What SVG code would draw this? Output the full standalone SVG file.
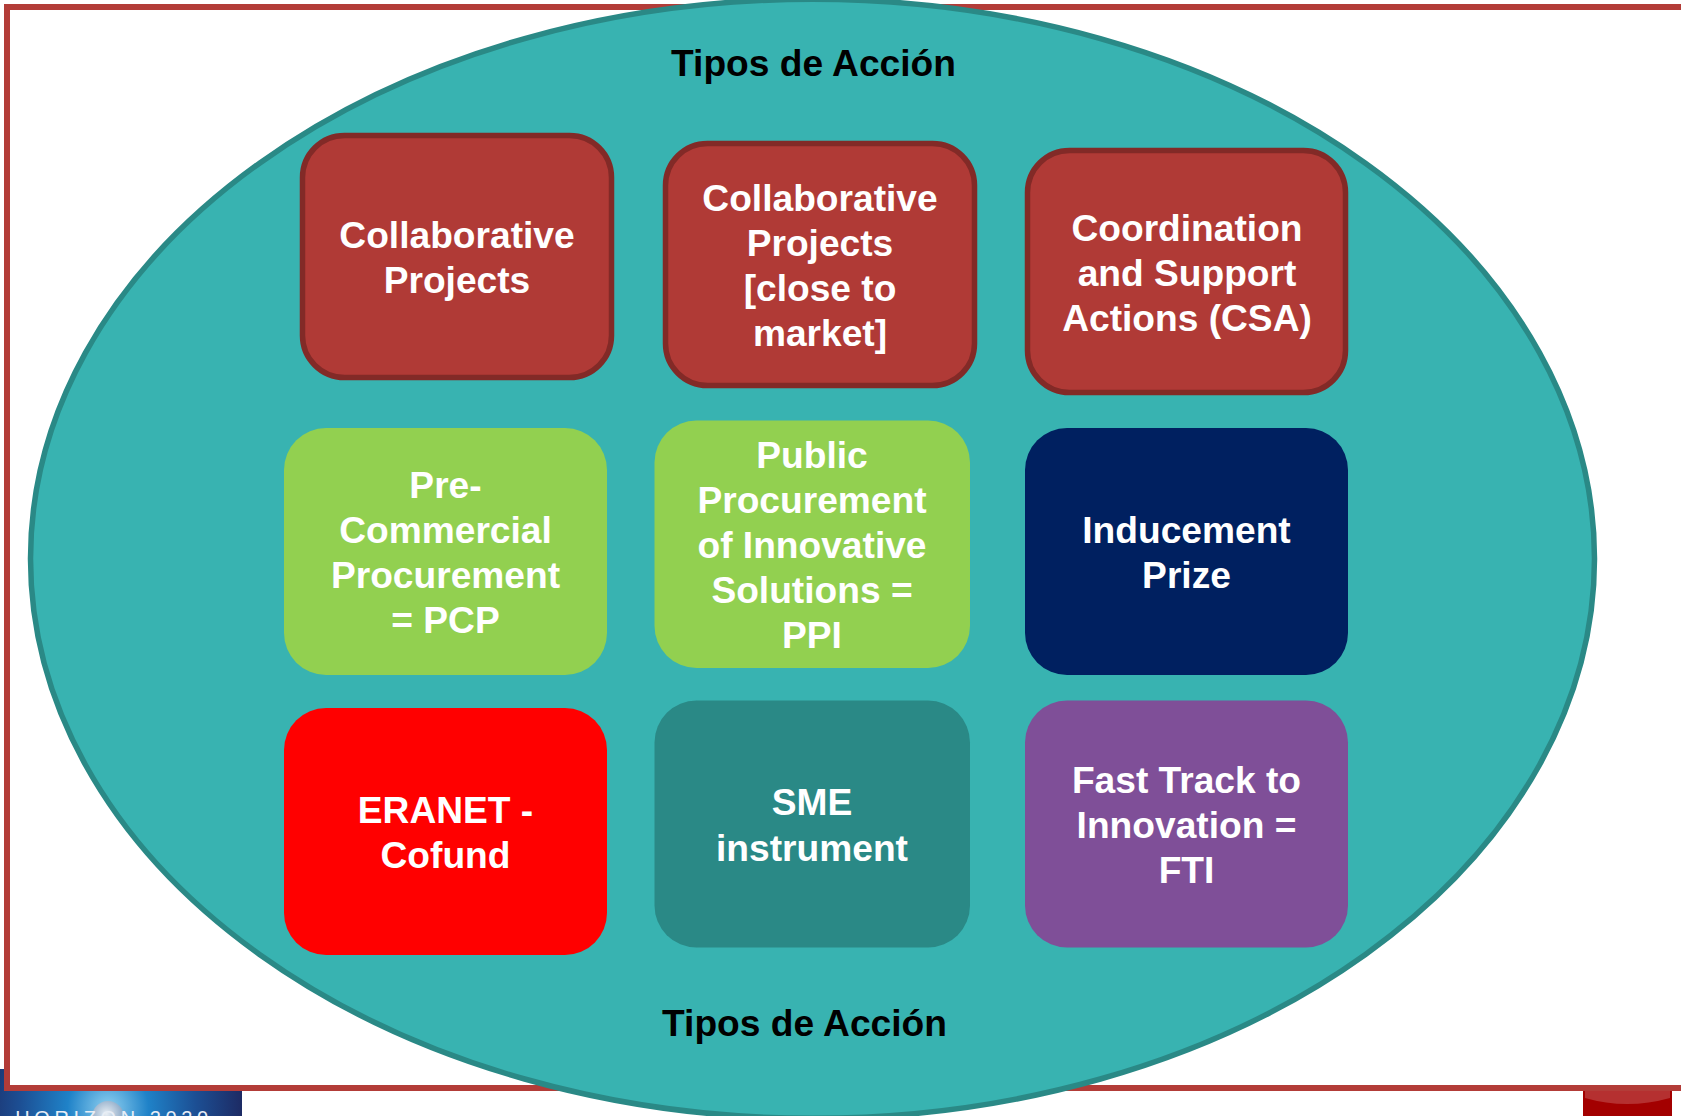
<svg xmlns="http://www.w3.org/2000/svg" width="1681" height="1116" viewBox="0 0 1681 1116">
<style>
text{font-family:"Liberation Sans",Arial,sans-serif;font-weight:bold;text-anchor:middle}
.w{fill:#fff;font-size:37.15px}
.k{fill:#000;font-size:37.15px}
.r{fill:#b03a36;stroke:#822a27;stroke-width:5.5}
</style>
<defs>
<radialGradient id="lg" gradientUnits="userSpaceOnUse" cx="108" cy="1108" r="135"><stop offset="0" stop-color="#8fd0f0"/><stop offset=".3" stop-color="#1f82c8"/><stop offset=".65" stop-color="#1c4f94"/><stop offset="1" stop-color="#1d2a63"/></radialGradient>
<radialGradient id="gl" cx=".45" cy=".4" r=".6"><stop offset="0" stop-color="#e8eef4"/><stop offset="1" stop-color="#7f9fc0"/></radialGradient>
<clipPath id="bot"><rect x="0" y="1060" width="1681" height="56"/></clipPath>
</defs>
<rect width="1681" height="1116" fill="#fff"/>
<g id="logo"><rect x="0" y="1069" width="242" height="47" fill="url(#lg)"/><circle cx="108" cy="1117" r="16" fill="url(#gl)"/><text x="114" y="1125" clip-path="url(#bot)" style="font-weight:normal;font-size:20px;letter-spacing:4.6px" fill="#e8eef6">HORIZON 2020</text></g>
<g id="icon"><rect x="1583" y="1090" width="89" height="26" fill="#a30000"/><path d="M1585 1091H1670V1098Q1627 1110 1585 1098Z" fill="#b53030"/></g>
<g id="frame"><path d="M1690 7H7V1088H1690Z" fill="#fff" stroke="#b33c38" stroke-width="6"/></g>
<g id="ellipse"><ellipse cx="812.500" cy="558.800" rx="782" ry="559.500" fill="#38b3b1" stroke="#2a8986" stroke-width="5.500"/></g>
<g id="title-top"><text class="k" x="813.500" y="76">Tipos de Acción</text></g>
<g id="title-bottom"><text class="k" x="804.500" y="1036">Tipos de Acción</text></g>
<g id="n1"><rect class="r" x="302.500" y="135.500" width="309" height="242" rx="42"/><text class="w"><tspan x="457" y="248">Collaborative</tspan><tspan x="457" y="293">Projects</tspan></text></g>
<g id="n2"><rect class="r" x="665.500" y="143.500" width="309" height="242" rx="42"/><text class="w"><tspan x="820" y="211">Collaborative</tspan><tspan x="820" y="256">Projects</tspan><tspan x="820" y="301">[close to</tspan><tspan x="820" y="346">market]</tspan></text></g>
<g id="n3"><rect class="r" x="1027.500" y="150.500" width="318" height="242" rx="42"/><text class="w"><tspan x="1187" y="241">Coordination</tspan><tspan x="1187" y="286">and Support</tspan><tspan x="1187" y="331">Actions (CSA)</tspan></text></g>
<g id="n4"><rect x="284" y="428" width="323" height="247" rx="42" fill="#92d050"/><text class="w"><tspan x="445.500" y="498">Pre-</tspan><tspan x="445.500" y="543">Commercial</tspan><tspan x="445.500" y="588">Procurement</tspan><tspan x="445.500" y="633">= PCP</tspan></text></g>
<g id="n5"><rect x="654.500" y="420.500" width="315.500" height="247.500" rx="42" fill="#92d050"/><text class="w"><tspan x="812" y="468">Public</tspan><tspan x="812" y="513">Procurement</tspan><tspan x="812" y="558">of Innovative</tspan><tspan x="812" y="603">Solutions =</tspan><tspan x="812" y="648">PPI</tspan></text></g>
<g id="n6"><rect x="1025" y="428" width="323" height="247" rx="42" fill="#002060"/><text class="w"><tspan x="1186.500" y="543">Inducement</tspan><tspan x="1186.500" y="588">Prize</tspan></text></g>
<g id="n7"><rect x="284" y="708" width="323" height="247" rx="42" fill="#ff0000"/><text class="w"><tspan x="445.500" y="823">ERANET -</tspan><tspan x="445.500" y="868">Cofund</tspan></text></g>
<g id="n8"><rect x="654.500" y="700.500" width="315.500" height="247" rx="42" fill="#2a8986"/><text class="w"><tspan x="812" y="815">SME</tspan><tspan x="812" y="861">instrument</tspan></text></g>
<g id="n9"><rect x="1025" y="700.500" width="323" height="247" rx="42" fill="#7f4f98"/><text class="w"><tspan x="1186.500" y="793">Fast Track to</tspan><tspan x="1186.500" y="838">Innovation =</tspan><tspan x="1186.500" y="883">FTI</tspan></text></g>
<g id="connectors"/>
</svg>
